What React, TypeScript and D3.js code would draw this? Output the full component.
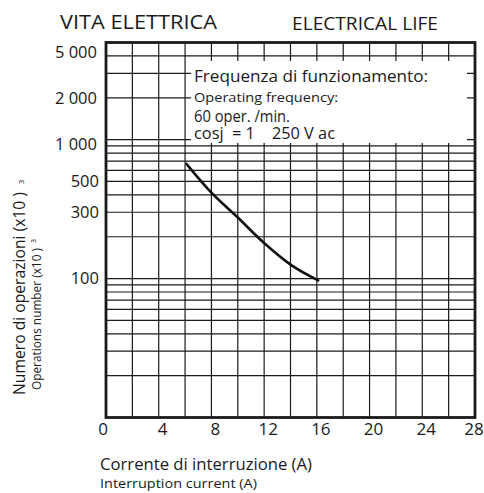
import React from 'react';
import * as d3 from 'd3';

// ---- data ----
const currentA = [6.1, 8, 10, 12, 14, 16.1];
const operationsK = [670, 415, 275, 180, 126, 97];

const xTickValues = [0, 4, 8, 12, 16, 20, 24, 28];
const xGridValues = [2, 4, 6, 8, 10, 12, 14, 16, 18, 20, 22, 24, 26];

const yTickValues = [5000, 2000, 1000, 500, 300, 100];
const yTickLabels = ['5 000', '2 000', '1 000', '500', '300', '100'];
const yGridValues = [
  20, 30, 40, 50, 60, 70, 80, 90,
  100, 200, 300, 400, 500, 600, 700, 800, 900,
  1000, 2000, 3000, 4000,
];

const titleIt = 'VITA ELETTRICA';
const titleEn = 'ELECTRICAL LIFE';
const legendLines = [
  'Frequenza di funzionamento:',
  'Operating frequency:',
  '60 oper. /min.',
  'cosj  = 1    250 V ac',
];
const xTitleIt = 'Corrente di interruzione (A)';
const xTitleEn = 'Interruption current (A)';
const yTitleIt = 'Numero di operazioni (x10 )';
const yTitleEn = 'Operations number (x10 )';

const FONT = '"Open Sans", "Noto Sans", sans-serif';
const INK = '#1a1a1a';

export default function App() {
  const W = 484;
  const H = 493;
  const left = 106;
  const right = 475;
  const top = 42.5;
  const bottom = 417.5;

  const x = d3.scaleLinear().domain([0, 28]).range([left, right]);
  const y = d3.scaleLog().domain([10, 5000]).range([bottom, top]);

  const line = d3
    .line<number>()
    .x((_, i) => x(currentA[i]))
    .y((d) => y(d))
    .curve(d3.curveMonotoneX);

  const boxX0 = x(6) + 6;
  const boxX1 = right - 8;
  const boxY0 = y(4000) + 5;
  const boxY1 = y(900) - 3;

  return (
    <svg
      width={W}
      height={H}
      style={{ position: 'absolute', left: 0, top: 0, background: '#fff' }}
      fontFamily={FONT}
    >
      <rect x={0} y={0} width={W} height={H} fill="#fff" />

      {/* titles */}
      <text x={60} y={28.5} fontSize={19.5} fill={INK} textLength={157} lengthAdjust="spacingAndGlyphs">
        {titleIt}
      </text>
      <text x={292} y={30} fontSize={17.5} fill={INK} textLength={146} lengthAdjust="spacingAndGlyphs">
        {titleEn}
      </text>

      {/* grid */}
      <g stroke={INK} strokeWidth={1.2}>
        {xGridValues.map((v) => (
          <line key={'gx' + v} x1={x(v)} x2={x(v)} y1={top} y2={bottom} />
        ))}
        {yGridValues.map((v) => (
          <line key={'gy' + v} x1={left} x2={right} y1={y(v)} y2={y(v)} />
        ))}
      </g>

      {/* legend box */}
      <rect x={boxX0} y={boxY0} width={boxX1 - boxX0} height={boxY1 - boxY0} fill="#fff" />
      <g fill={INK}>
        <text x={194} y={81.5} fontSize={17} textLength={234} lengthAdjust="spacingAndGlyphs">
          {legendLines[0]}
        </text>
        <text x={194} y={101.5} fontSize={12.5} textLength={144} lengthAdjust="spacingAndGlyphs">
          {legendLines[1]}
        </text>
        <text x={194} y={121.5} fontSize={15.5} textLength={96} lengthAdjust="spacingAndGlyphs">
          {legendLines[2]}
        </text>
        <text x={194} y={139} fontSize={15.5} textLength={141} lengthAdjust="spacingAndGlyphs" style={{ whiteSpace: 'pre' }}>
          {legendLines[3]}
        </text>
      </g>

      {/* border */}
      <rect
        x={left}
        y={top}
        width={right - left}
        height={bottom - top}
        fill="none"
        stroke={INK}
        strokeWidth={2.8}
      />

      {/* curve */}
      <path d={line(operationsK) || ''} fill="none" stroke="#111" strokeWidth={2.6} strokeLinecap="round" />

      {/* y tick labels */}
      <g fill={INK} fontSize={16.5} textAnchor="end">
        {yTickValues.map((v, i) => (
          <text key={'yt' + v} x={i < 3 ? 97 : 99} y={Math.max(y(v), top + 9.5)} dy={v === 1000 ? '0.62em' : '0.36em'}>
            {yTickLabels[i]}
          </text>
        ))}
      </g>

      {/* x tick labels */}
      <g fill={INK} fontSize={17} textAnchor="middle">
        {xTickValues.map((v) => (
          <text key={'xt' + v} x={Math.min(x(v) + (v === 0 ? -3 : 4), W - 10)} y={435}>
            {String(v)}
          </text>
        ))}
      </g>

      {/* x axis titles */}
      <text x={100} y={470} fontSize={16.5} fill={INK} textLength={212} lengthAdjust="spacingAndGlyphs">
        {xTitleIt}
      </text>
      <text x={100} y={488} fontSize={12.5} fill={INK} textLength={157} lengthAdjust="spacingAndGlyphs">
        {xTitleEn}
      </text>

      {/* y axis titles */}
      <text transform="translate(24.5,395) rotate(-90)" fontSize={15.5} fill={INK} textLength={203} lengthAdjust="spacingAndGlyphs" style={{ whiteSpace: 'pre' }}>
        {yTitleIt}
      </text>
      <text transform="translate(24,182) rotate(-90)" fontSize={8} fill={INK} textAnchor="middle">
        3
      </text>
      <text transform="translate(41,390) rotate(-90)" fontSize={12.5} fill={INK} textLength={142} lengthAdjust="spacingAndGlyphs" style={{ whiteSpace: 'pre' }}>
        {yTitleEn}
      </text>
      <text transform="translate(36,241) rotate(-90)" fontSize={7} fill={INK} textAnchor="middle">
        3
      </text>
    </svg>
  );
}
